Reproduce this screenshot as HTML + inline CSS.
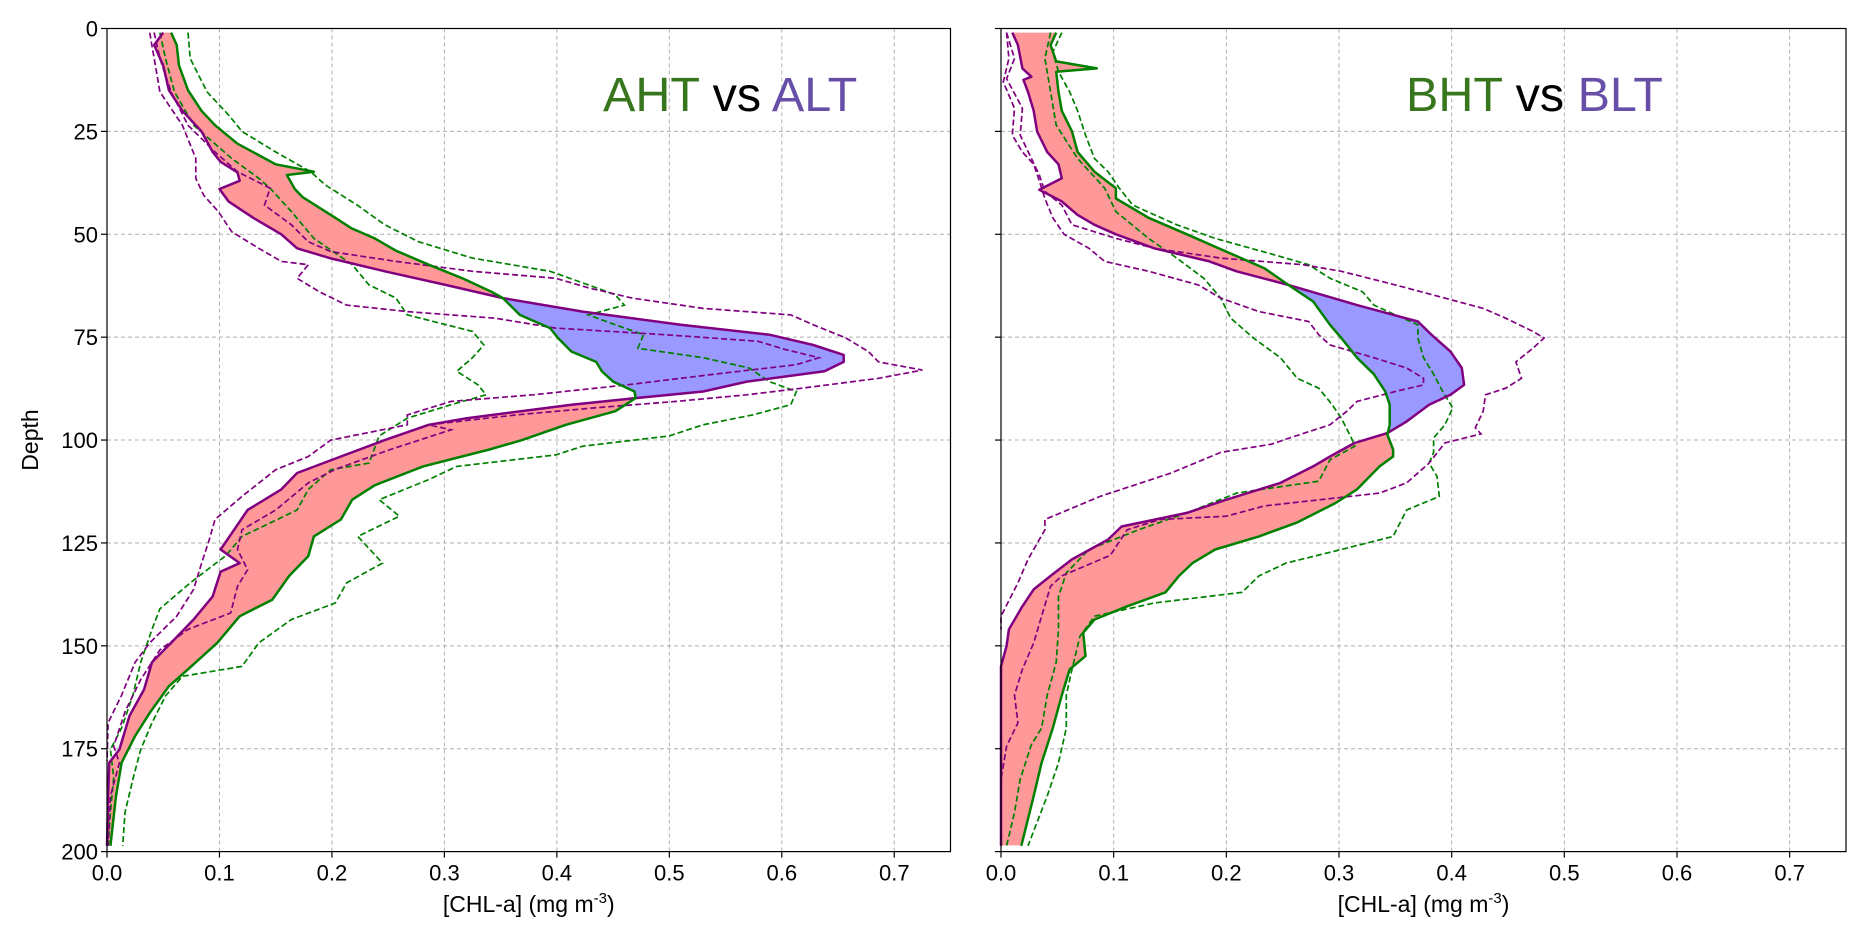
<!DOCTYPE html>
<html><head><meta charset="utf-8"><style>
html,body{margin:0;padding:0;background:#fff;}
svg{display:block;font-family:"Liberation Sans","DejaVu Sans",sans-serif;}
</style></head><body>
<svg id="chart" width="1865" height="937" viewBox="0 0 1865 937" xmlns="http://www.w3.org/2000/svg"></svg>
<script>
// ---------- data (value in mg m-3 vs depth m) ----------
const xTicks = [0,0.1,0.2,0.3,0.4,0.5,0.6,0.7];
const xTickLabels = ["0.0","0.1","0.2","0.3","0.4","0.5","0.6","0.7"];
const yTicks = [0,25,50,75,100,125,150,175,200];
const yTickLabels = ["0","25","50","75","100","125","150","175","200"];

// Panel A: AHT mean (green solid)
const ahtDepth = [1,4,9,15,20,23.5,28,33,34.8,35.6,39,41,46,48.5,51,54,57.4,60.7,64,65.5,69.6,72.8,75.2,78.5,81,83.3,85.8,88.2,89.8,93,96.3,100,102.3,106.4,111,114.5,119.3,123.4,128.2,133,138.8,142.8,149.3,155.7,159.8,166.3,171.9,178.4,186.5,198.6];
const ahtVal = [0.057,0.062,0.064,0.072,0.084,0.096,0.116,0.15,0.184,0.16,0.167,0.174,0.203,0.217,0.238,0.257,0.286,0.316,0.342,0.352,0.367,0.394,0.401,0.413,0.435,0.44,0.45,0.469,0.47,0.452,0.408,0.369,0.34,0.281,0.238,0.218,0.208,0.184,0.179,0.162,0.147,0.118,0.098,0.072,0.055,0.038,0.025,0.013,0.008,0.003];
// Panel A: ALT mean (purple solid)
const altDepth = [1,4,9,15,20,25,30,32.4,35,37,39,42,46,50,53.4,55.8,59,62.3,65.5,68.8,72,74.4,76.9,79.3,81,83.3,85.8,88.2,89.8,91.4,94.7,96.3,100,104,108,112,117,121.8,126.6,129.9,132,138,143.6,149.3,154,160.6,167,175.2,178.4,186.5,198.6];
const altVal = [0.05,0.042,0.05,0.055,0.067,0.084,0.094,0.101,0.116,0.118,0.1,0.108,0.13,0.155,0.169,0.198,0.247,0.301,0.352,0.423,0.51,0.589,0.628,0.655,0.655,0.638,0.569,0.53,0.47,0.413,0.32,0.286,0.247,0.208,0.169,0.155,0.125,0.113,0.101,0.118,0.101,0.094,0.077,0.057,0.04,0.033,0.02,0.011,0.002,0.001,0];
// Panel A: AHT bounds (green dashed)
const ahtHiDepth = [1,7.3,15.4,21,25,30,34.8,38,43,47.7,51.8,55.8,59,62.3,64.7,67.2,69.6,72,74.4,77.7,80,82.5,85.8,88.2,91.4,93.9,96.3,99,101.5,103.6,106.4,109.6,114.5,118.5,123.4,129.9,134.7,139.6,143.6,149.3,155,157.4,162.2,168.7,175.2,182.4,190.5,198.6];
const ahtHiVal = [0.072,0.074,0.089,0.108,0.12,0.15,0.181,0.194,0.223,0.247,0.277,0.325,0.394,0.428,0.452,0.46,0.428,0.452,0.477,0.472,0.53,0.571,0.589,0.613,0.608,0.574,0.53,0.5,0.423,0.399,0.311,0.286,0.242,0.26,0.223,0.245,0.213,0.203,0.164,0.135,0.12,0.067,0.052,0.04,0.03,0.023,0.016,0.014];
const ahtLoDepth = [1,7.3,15.4,23.5,31.6,36.4,38.8,44.5,51,57.4,62.3,65.5,69.6,73.6,76.9,80,83.3,86.6,89,91.4,94.7,99,105.6,107.2,112,117,123.4,128,134.7,141,146,154,162,170,175.2,182,190.5,198.6];
const ahtLoVal = [0.047,0.052,0.06,0.077,0.111,0.135,0.145,0.164,0.184,0.218,0.233,0.257,0.267,0.325,0.335,0.325,0.311,0.33,0.337,0.306,0.267,0.242,0.233,0.199,0.179,0.169,0.12,0.106,0.074,0.047,0.04,0.03,0.023,0.013,0.003,0.006,0.003,0.001];
// Panel A: ALT bounds (purple dashed)
const altHiDepth = [1,7.3,15.4,23.5,30,34.8,38.8,42.9,47.7,51.8,54.2,56.6,59,60.7,63,65.5,68,69.6,72,75.2,78.5,81,83,85,87.4,89,90.6,92.2,93.9,96.3,97.5,102.3,107,110.4,117,121.8,126.6,131.5,135.5,142,146,151,158.2,166,174.4,178.4,186.5,198.6];
const altHiVal = [0.042,0.047,0.057,0.072,0.096,0.116,0.145,0.14,0.164,0.179,0.199,0.257,0.325,0.399,0.428,0.467,0.53,0.608,0.628,0.657,0.677,0.686,0.725,0.686,0.618,0.569,0.506,0.433,0.364,0.286,0.306,0.252,0.204,0.179,0.15,0.12,0.116,0.125,0.116,0.11,0.072,0.047,0.03,0.016,0.006,0.011,0.003,0.001];
const altLoDepth = [1,7.3,15.4,23.5,31.6,36.4,40.5,44.5,49.4,53.4,56.6,57.4,60.7,64,67.2,68.8,70.4,72.8,74.4,76,78,80,81.7,84,86.6,89,90.6,93.9,96.3,100,104,107.2,113.7,119.3,124.2,130,136.3,142.8,149.3,154,162,168.7,178];
const altLoVal = [0.038,0.042,0.047,0.067,0.079,0.079,0.086,0.099,0.111,0.135,0.155,0.179,0.169,0.189,0.213,0.267,0.345,0.399,0.496,0.579,0.603,0.633,0.613,0.54,0.462,0.379,0.306,0.267,0.267,0.199,0.179,0.15,0.12,0.096,0.091,0.084,0.077,0.062,0.038,0.025,0.013,0.001,0];

// Panel B: BHT mean (green solid)
const bhtDepth = [1,4,8,9.7,10.5,15.4,20,25,30,34.8,38.8,41.3,46,50,54.2,58.3,62.3,66.3,72,75.2,80,84,88.2,91.4,96.3,98.7,102.3,104,106.4,112,115.3,120,123.4,126.6,129.9,133,137,140.4,143.6,146.8,152.5,155.7,162,170,178.4,186.5,198.6];
const bhtVal = [0.049,0.044,0.049,0.085,0.049,0.051,0.054,0.063,0.068,0.083,0.102,0.102,0.131,0.165,0.2,0.234,0.255,0.277,0.292,0.302,0.316,0.331,0.341,0.345,0.345,0.343,0.348,0.348,0.336,0.316,0.297,0.263,0.229,0.19,0.17,0.158,0.146,0.112,0.083,0.073,0.075,0.061,0.054,0.046,0.036,0.029,0.018];
// Panel B: BLT mean (purple solid)
const bltDepth = [1,4,9.7,11.7,12.5,15.4,20,25,30,33,36.4,39.2,42,45.3,47.7,50,53.4,56.6,59,62.3,67.2,71.2,74.4,78.5,82.5,86.6,89,91.4,95.5,98.3,100.7,104,106.4,110.4,114.5,117.7,121,124.2,129,133,136.3,140.4,146,150,155,198.6];
const bltVal = [0.01,0.015,0.019,0.027,0.02,0.024,0.029,0.032,0.041,0.051,0.054,0.034,0.054,0.068,0.083,0.102,0.136,0.185,0.209,0.255,0.316,0.37,0.382,0.399,0.409,0.411,0.399,0.38,0.36,0.343,0.314,0.292,0.277,0.248,0.2,0.165,0.107,0.095,0.063,0.044,0.029,0.019,0.007,0.005,0,0];
// Panel B: BHT bounds (green dashed)
const bhtHiDepth = [1,5.7,10.5,15.4,20,25.9,31.6,34.8,38.8,42.9,47.7,51,55,57.4,60.7,64,67.2,69.6,72,75.2,80,84,88.2,92.2,96.3,99.5,103,105.6,108.8,113.7,117,123.4,126.6,129.9,133,137,139.6,142.8,147.7,155.7,162,170,178.4,186.5,198.6];
const bhtHiVal = [0.054,0.046,0.051,0.061,0.068,0.075,0.083,0.095,0.105,0.117,0.156,0.19,0.243,0.273,0.292,0.321,0.331,0.35,0.37,0.37,0.375,0.384,0.392,0.401,0.394,0.384,0.384,0.38,0.387,0.389,0.36,0.348,0.302,0.253,0.229,0.214,0.136,0.083,0.07,0.063,0.058,0.058,0.051,0.041,0.024];
const bhtLoDepth = [1,7.3,15.4,23.5,31.6,38.8,44.5,51,55.8,60.7,65.5,70.4,75.2,80,85,87.4,91.4,94.7,99.5,101.5,104.8,110,112.9,117.7,121.8,126.6,132.3,138,146,154,162,170,174,182.4,190.5,198.6];
const bhtLoVal = [0.044,0.039,0.044,0.049,0.068,0.092,0.102,0.131,0.156,0.18,0.195,0.204,0.224,0.248,0.263,0.282,0.294,0.302,0.311,0.314,0.292,0.282,0.209,0.165,0.122,0.078,0.058,0.051,0.051,0.049,0.041,0.036,0.027,0.017,0.012,0.005];
// Panel B: BLT bounds (purple dashed)
const bltHiDepth = [1,7.3,12.2,19.4,25.9,31.6,35.6,39.6,42.9,47.7,51,53.4,55.8,57.4,59,62.3,65.5,68,70.4,73.6,75.2,77.7,81,85,87.4,89,93,97,98.5,100.7,105.6,110.4,112.9,116,118.5,119.3,121.8,128,133,135.5,142.8,149.3,155.7,162,168.7,174.4,182.4];
const bltHiVal = [0.005,0.012,0.005,0.019,0.017,0.027,0.034,0.039,0.054,0.063,0.102,0.136,0.195,0.268,0.302,0.35,0.394,0.428,0.448,0.472,0.482,0.472,0.457,0.462,0.448,0.43,0.428,0.421,0.426,0.394,0.38,0.36,0.336,0.234,0.2,0.141,0.112,0.097,0.054,0.044,0.036,0.029,0.019,0.012,0.015,0.005,0];
const bltLoDepth = [1,7.3,13,19.4,25.9,30,33,37,41.3,46,50,53.4,56.6,59,62.3,65.5,68.8,71.2,74.4,76.9,80,82.5,85,86.6,88.2,90.6,93,96.3,99.5,101,103,108,113.7,119.3,121.8,129,134.7,142.8,146];
const bltLoVal = [0.005,0.007,0.002,0.012,0.01,0.019,0.029,0.034,0.039,0.046,0.056,0.078,0.092,0.131,0.175,0.195,0.229,0.273,0.282,0.292,0.331,0.36,0.375,0.375,0.35,0.316,0.307,0.292,0.256,0.24,0.195,0.151,0.088,0.039,0.039,0.024,0.015,0,0];

// ---------- rendering ----------
const NS = "http://www.w3.org/2000/svg";
const svg = document.getElementById("chart");
function mk(tag, attrs, parent){
  const e = document.createElementNS(NS, tag);
  for (const k in attrs) e.setAttribute(k, attrs[k]);
  (parent||svg).appendChild(e);
  return e;
}
const X_MAX = 0.75, Y_MAX = 200;
const panels = [
  {key:"a", x0:107, x1:950.5, y0:28.5, y1:851.6, showY:true,
   hi:[ahtDepth,ahtVal], lo:[altDepth,altVal],
   dashes:[[ahtHiDepth,ahtHiVal,"green"],[ahtLoDepth,ahtLoVal,"green"],[altHiDepth,altHiVal,"purple"],[altLoDepth,altLoVal,"purple"]],
   title:["AHT","ALT"], tx:603},
  {key:"b", x0:1001, x1:1846, y0:28.5, y1:851.6, showY:false,
   hi:[bhtDepth,bhtVal], lo:[bltDepth,bltVal],
   dashes:[[bhtHiDepth,bhtHiVal,"green"],[bhtLoDepth,bhtLoVal,"green"],[bltHiDepth,bltHiVal,"purple"],[bltLoDepth,bltLoVal,"purple"]],
   title:["BHT","BLT"], tx:1406}
];
function interp(ds, vs, d){
  if (d <= ds[0]) return vs[0];
  if (d >= ds[ds.length-1]) return vs[vs.length-1];
  for (let i=1;i<ds.length;i++){
    if (d <= ds[i]){ const t=(d-ds[i-1])/(ds[i]-ds[i-1]); return vs[i-1]+t*(vs[i]-vs[i-1]); }
  }
}
panels.forEach(p=>{
  const W = p.x1-p.x0, H = p.y1-p.y0;
  const sx = v => p.x0 + v/X_MAX*W;
  const sy = d => p.y0 + d/Y_MAX*H;
  const g = mk("g",{});
  
  
  const grid = mk("g",{stroke:"#b0b0b0","stroke-width":1,"stroke-dasharray":"4,3"},g);
  
  
  xTicks.forEach(t=>{ if(t>0) mk("line",{x1:sx(t),x2:sx(t),y1:p.y0,y2:p.y1},grid); });
  yTicks.forEach(t=>{ if(t>0 && t<200) mk("line",{x1:p.x0,x2:p.x1,y1:sy(t),y2:sy(t)},grid); });
  const ds=[], gv=[], pv=[];
  const dEnd = Math.min(p.hi[0][p.hi[0].length-1], p.lo[0][p.lo[0].length-1]);
  for (let d=p.hi[0][0]; d<=dEnd+1e-9; d+=0.5){ ds.push(d); gv.push(interp(p.hi[0],p.hi[1],d)); pv.push(interp(p.lo[0],p.lo[1],d)); }
  const runs=[]; let cur=null;
  for (let i=0;i<ds.length;i++){
    const s = gv[i]>=pv[i] ? 1 : -1;
    if (!cur){ cur={s:s,pts:[]}; }
    else if (s!==cur.s){
      const a=gv[i-1]-pv[i-1], b=gv[i]-pv[i], t=a/(a-b);
      const cd=ds[i-1]+t*(ds[i]-ds[i-1]), cv=gv[i-1]+t*(gv[i]-gv[i-1]);
      cur.pts.push([cd,cv,cv]); runs.push(cur);
      cur={s:s,pts:[[cd,cv,cv]]};
    }
    cur.pts.push([ds[i],gv[i],pv[i]]);
  }
  if (cur) runs.push(cur);
  runs.forEach((r,ri)=>{
    let dd = r.pts.map(q=>sx(q[1]).toFixed(1)+","+sy(q[0]).toFixed(1));
    let bb = r.pts.slice().reverse().map(q=>sx(q[2]).toFixed(1)+","+sy(q[0]).toFixed(1));
    const poly = mk("polygon",{points:dd.concat(bb).join(" "),fill:r.s>0?"#ff9999":"#9999ff",stroke:"none"},g);
    
    
  });
  p.dashes.forEach((s,si)=>{
    const pts = s[0].map((d,i)=>sx(s[1][i]).toFixed(1)+","+sy(d).toFixed(1)).join(" ");
    const l = mk("polyline",{points:pts,fill:"none",stroke:s[2],"stroke-width":1.7,"stroke-dasharray":"6,3"},g);
    
    
  });
  [[p.lo,"purple","low"],[p.hi,"green","high"]].forEach(s=>{
    const pts = s[0][0].map((d,i)=>sx(s[0][1][i]).toFixed(1)+","+sy(d).toFixed(1)).join(" ");
    const l = mk("polyline",{points:pts,fill:"none",stroke:s[1],"stroke-width":2.5,"stroke-linejoin":"round"},g);
    
    
  });
  const fr = mk("rect",{x:p.x0,y:p.y0,width:W,height:H,fill:"none",stroke:"#000","stroke-width":1.2},g);
  
  
  const ax = mk("g",{},g);
  
  
  xTicks.forEach((t,i)=>{
    mk("line",{x1:sx(t),x2:sx(t),y1:p.y1,y2:p.y1+6,stroke:"#000","stroke-width":1.2},ax);
    const tx = mk("text",{x:sx(t),y:p.y1+29,"text-anchor":"middle","font-size":22,fill:"#000"},ax);
    tx.textContent = xTickLabels[i];
    
    
  });
  const xl = mk("text",{x:(p.x0+p.x1)/2,y:912,"text-anchor":"middle","font-size":23,fill:"#000"},ax);
  xl.innerHTML = '[CHL-a] (mg m<tspan dy="-9" font-size="15">-3</tspan><tspan dy="9">)</tspan>';
  
  
  const ay = mk("g",{},g);
  
  
  yTicks.forEach((t,i)=>{
    mk("line",{x1:p.x0-6,x2:p.x0,y1:sy(t),y2:sy(t),stroke:"#000","stroke-width":1.2},ay);
    if (p.showY){
      const tx = mk("text",{x:p.x0-9,y:sy(t)+8,"text-anchor":"end","font-size":22,fill:"#000"},ay);
      tx.textContent = yTickLabels[i];
      
      
    }
  });
  if (p.showY){
    const yl = mk("text",{x:38,y:440,"text-anchor":"middle","font-size":23,fill:"#000",transform:"rotate(-90 38 440)"},ay);
    yl.textContent = "Depth";
    
    
  }
  const tt = mk("text",{x:p.tx,y:111,"font-size":48.5,fill:"#000"},g);
  tt.innerHTML = '<tspan fill="#38761d">'+p.title[0]+'</tspan> vs <tspan fill="#674ea7">'+p.title[1]+'</tspan>';
  
  
});
</script>
</body></html>
